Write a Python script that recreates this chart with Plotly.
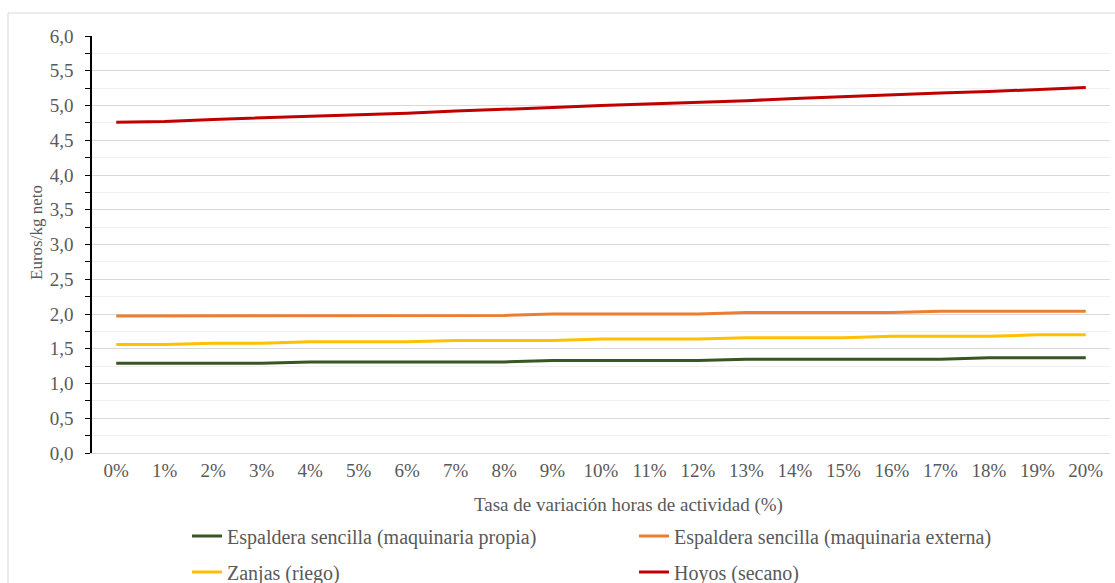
import plotly.graph_objects as go

categories = [f"{i}%" for i in range(0, 21)]

esp_propia = [1.29, 1.29, 1.29, 1.29, 1.31, 1.31, 1.31, 1.31, 1.31, 1.33, 1.33,
              1.33, 1.33, 1.35, 1.35, 1.35, 1.35, 1.35, 1.37, 1.37, 1.37]
esp_externa = [1.97, 1.97, 1.97, 1.97, 1.98, 1.98, 1.98, 1.98, 1.98, 2.00, 2.00,
               2.00, 2.00, 2.02, 2.02, 2.02, 2.02, 2.04, 2.04, 2.04, 2.04]
zanjas = [1.56, 1.56, 1.58, 1.58, 1.60, 1.60, 1.60, 1.62, 1.62, 1.62, 1.64,
          1.64, 1.64, 1.66, 1.66, 1.66, 1.68, 1.68, 1.68, 1.70, 1.70]
hoyos = [4.76, 4.77, 4.80, 4.82, 4.84, 4.87, 4.89, 4.92, 4.94, 4.97, 5.00,
         5.02, 5.05, 5.07, 5.10, 5.13, 5.15, 5.18, 5.20, 5.23, 5.26]

x_title = "Tasa de variación horas de actividad (%)"
y_title = "Euros/kg neto"

series = [
    ("Espaldera sencilla (maquinaria propia)", esp_propia, "#375623", "legend"),
    ("Espaldera sencilla (maquinaria externa)", esp_externa, "#ED7D31", "legend"),
    ("Zanjas (riego)", zanjas, "#FFC000", "legend2"),
    ("Hoyos (secano)", hoyos, "#C00000", "legend2"),
]

FONT = "Liberation Serif"
GRAY = "#595959"

fig = go.Figure()
for name, vals, color, lg in series:
    fig.add_trace(go.Scatter(
        x=categories, y=vals, mode="lines", name=name,
        line=dict(color=color, width=3), legend=lg,
    ))

W, H = 1115, 583
L, R, T, B = 92, 5, 36, 130
pw = W - L - R
ph = H - T - B

def px_x(x):
    return (x - L) / pw

def px_y(y):
    return (H - B - y) / ph

legend_common = dict(
    orientation="h", xanchor="left", yanchor="middle",
    entrywidth=402, entrywidthmode="pixels",
    font=dict(family=FONT, size=20, color=GRAY),
    bgcolor="rgba(0,0,0,0)", traceorder="normal",
)

fig.update_layout(
    width=W, height=H,
    margin=dict(l=L, r=R, t=T, b=B, autoexpand=False),
    paper_bgcolor="white", plot_bgcolor="white",
    separators=",.",
    font=dict(family=FONT, color=GRAY),
    legend=dict(x=px_x(187), y=px_y(536), **legend_common),
    legend2=dict(x=px_x(187), y=px_y(572), **legend_common),
    xaxis=dict(
        type="category", range=[-0.5, 20.5],
        showgrid=False, zeroline=False, showline=True, linecolor="#d9d9d9",
        ticks="", tickfont=dict(family=FONT, size=19, color=GRAY),
    ),
    yaxis=dict(
        range=[0, 6], dtick=0.5, tick0=0, tickformat=".1f",
        showgrid=True, gridcolor="#d9d9d9", gridwidth=1,
        zeroline=False, showline=True, linecolor="black", linewidth=1.5,
        ticks="outside", ticklen=5, tickcolor="black",
        ticklabelstandoff=8,
        tickfont=dict(family=FONT, size=19, color=GRAY),
        minor=dict(dtick=0.25, showgrid=True, gridcolor="#f0f0f0",
                   ticks="outside", ticklen=5, tickcolor="black"),
    ),
    showlegend=True,
)

fig.add_annotation(text=x_title, xref="paper", yref="paper",
                   x=px_x(628), y=px_y(505), xanchor="center", yanchor="middle",
                   showarrow=False, font=dict(family=FONT, size=19, color=GRAY))
fig.add_annotation(text=y_title, xref="paper", yref="paper", textangle=-90,
                   x=px_x(37), y=px_y(233), xanchor="center", yanchor="middle",
                   showarrow=False, font=dict(family=FONT, size=17, color=GRAY))

fig.add_shape(type="rect", xref="paper", yref="paper",
              x0=px_x(8), x1=px_x(1130), y0=px_y(600), y1=px_y(13),
              line=dict(color="#d9d9d9", width=1), layer="below")

fig.write_html("out.html", config={"displayModeBar": False},
               post_script="document.body.style.margin='0px';")
